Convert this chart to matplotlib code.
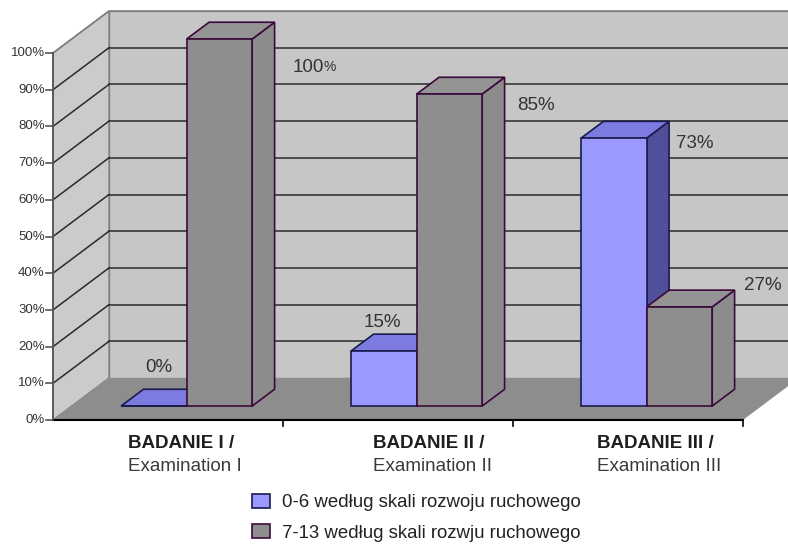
import matplotlib
matplotlib.use('Agg')
import matplotlib.pyplot as plt
from matplotlib.patches import Polygon, Patch

plt.rcParams['font.family'] = ['Liberation Sans', 'DejaVu Sans']

# data
categories = ['BADANIE I /', 'BADANIE II /', 'BADANIE III /']
subtitles = ['Examination I', 'Examination II', 'Examination III']
series_names = ['0-6 według skali rozwoju ruchowego',
                '7-13 według skali rozwju ruchowego']
low_scale = [0, 15, 73]      # 0-6
high_scale = [100, 85, 27]   # 7-13
yticks = list(range(0, 101, 10))

# label offsets in points (from front-top-right corner of each bar)
low_label_off = [(-29.5, 27.4), (-38.2, 20.2), (20.9, -3.6)]
high_label_off = [(28.8, -20.2), (25.2, -7.9), (23.0, 15.1)]
# left edge of category labels relative to category centre
cat_label_shift = [-0.174, -0.109, -0.135]

# 3D look
DX, DY = 0.2435, 11.44       # depth vector in data units
F0, F1 = 0.333, 0.733        # bar front / back depth fraction
BAR_W = 0.285
LEFT_PAD = 0.215

wall_col = '#c6c6c6'
side_col = '#cbcbcb'
floor_col = '#8d8d8d'
grid_col = '#2a2a2a'
styles = [
    dict(front='#9999ff', top='#7b7be0', side='#50509a', edge='#1a1a4d'),
    dict(front='#8e8e8e', top='#949494', side='#8c8c8c', edge='#3a0a3a'),
]

fig = plt.figure(figsize=(7.88, 5.46), dpi=100)
ax = fig.add_axes([0, 0, 1, 1])
ax.set_xlim(-53 / 230, 735 / 230)
ax.set_ylim(-126 / 3.67, 420 / 3.67)
ax.axis('off')

n = len(categories)


def P(x, y, f):
    return (x + f * DX, y + f * DY)


# walls and floor
ax.add_patch(Polygon([P(0, 0, 1), P(n + 1, 0, 1), P(n + 1, 100, 1), P(0, 100, 1)],
                     closed=True, fc=wall_col, ec='#808080', lw=1.0, zorder=1))
ax.add_patch(Polygon([(0, 0), (0, 100), P(0, 100, 1), P(0, 0, 1)],
                     closed=True, fc=side_col, ec='#808080', lw=1.0, zorder=1))
for v in yticks[1:-1]:
    ax.plot([0, DX], [v, v + DY], color=grid_col, lw=1.1, zorder=2)
    ax.plot([DX, n + 1], [v + DY, v + DY], color=grid_col, lw=1.1, zorder=2)
ax.plot([0, DX, n + 1], [100, 100 + DY, 100 + DY], color='#808080', lw=1.2, zorder=2)
ax.add_patch(Polygon([(0, 0), (n, 0), P(n, 0, 1), P(0, 0, 1)],
                     closed=True, fc=floor_col, ec='none', zorder=3))

# axes lines and ticks
ax.plot([0, 0], [0, 100], color='#555555', lw=1.3, zorder=4)
ax.plot([0, n], [0, 0], color='black', lw=1.5, zorder=4)
for v in yticks:
    ax.plot([-0.03, 0], [v, v], color='#555555', lw=1.2, zorder=4)
    ax.text(-0.036, v, f'{v}%', ha='right', va='center', fontsize=9.5,
            color='#333333')
for i in range(1, n + 1):
    ax.plot([i, i], [0, -1.6], color='black', lw=1.2, zorder=4)


def draw_bar(x0, x1, h, st):
    front = [P(x0, 0, F0), P(x1, 0, F0), P(x1, h, F0), P(x0, h, F0)]
    top = [P(x0, h, F0), P(x1, h, F0), P(x1, h, F1), P(x0, h, F1)]
    side = [P(x1, 0, F0), P(x1, 0, F1), P(x1, h, F1), P(x1, h, F0)]
    for pts, c in ((side, st['side']), (top, st['top']), (front, st['front'])):
        ax.add_patch(Polygon(pts, closed=True, fc=c, ec=st['edge'], lw=1.2,
                             joinstyle='miter', zorder=5))


for i in range(n):
    for s, (vals, offs) in enumerate(((low_scale, low_label_off),
                                      (high_scale, high_label_off))):
        x0 = i + LEFT_PAD + s * BAR_W
        x1 = x0 + BAR_W
        draw_bar(x0, x1, vals[i], styles[s])
        if vals[i] == 100:
            # the reference prints the % sign smaller here
            num = ax.annotate(f'{vals[i]}', xy=P(x1, vals[i], F0), xytext=offs[i],
                              textcoords='offset points', ha='left', va='center',
                              fontsize=13.5, color='#333333', zorder=6)
            ax.annotate('%', xy=(1, 0.12), xycoords=num, ha='left', va='bottom',
                        fontsize=10, color='#333333', zorder=6)
        else:
            ax.annotate(f'{vals[i]}%', xy=P(x1, vals[i], F0), xytext=offs[i],
                        textcoords='offset points', ha='left', va='center',
                        fontsize=13.5, color='#333333', zorder=6)

# category labels
for i in range(n):
    xl = i + 0.5 + cat_label_shift[i]
    ax.text(xl, -6.3, categories[i], ha='left', va='center',
            fontsize=13.5, fontweight='bold', color='#1e1e1e')
    ax.text(xl, -12.8, subtitles[i], ha='left', va='center',
            fontsize=13.5, color='#3a3a3a')

handles = [Patch(facecolor=st['front'], edgecolor=st['edge'], lw=1.2) for st in styles]
fig.legend(handles, series_names, loc='upper left',
           bbox_to_anchor=(235 / 788, 1 - 477 / 546), frameon=False,
           fontsize=13.4, handlelength=1.0, handleheight=0.8,
           handletextpad=0.65, labelspacing=0.69, labelcolor='#222222')

fig.savefig('out.png', dpi=100)
